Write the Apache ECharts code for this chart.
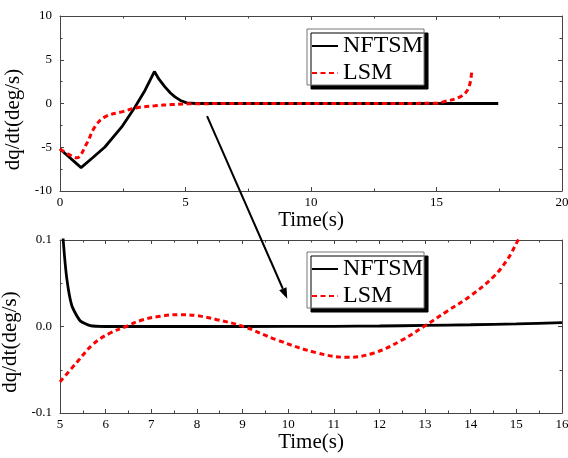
<!DOCTYPE html>
<html>
<head>
<meta charset="UTF-8">
<title>NFTSM / LSM</title>
<script src="https://cdn.jsdelivr.net/npm/echarts@6/dist/echarts.min.js"></script>
<style>
html, body { margin: 0; padding: 0; background: #fff; }
#chart { width: 568px; height: 458px; }
</style>
</head>
<body>
<div id="chart"></div>
<script>
var seriesNames = ['NFTSM', 'LSM'];

// upper panel, 0-20 s
var topNftsm = [[0, -5.2], [0.84, -7.33], [1.3, -6.2], [1.79, -4.97], [2.46, -2.68], [2.99, -0.39],
	[3.39, 1.52], [3.76, 3.65], [3.95, 2.75], [4.18, 1.9], [4.4, 1.2], [4.58, 0.76], [4.8, 0.35],
	[5.05, 0.07], [5.4, 0], [10, 0], [17.46, 0]];
var topLsm = [[0, -5.2], [0.4, -5.9], [0.66, -6.2], [1.06, -4.6], [1.39, -2.68], [1.79, -1.53],
	[2.46, -0.96], [3.12, -0.46], [3.78, -0.27], [4.45, -0.12], [5.4, -0.02], [10, 0], [15, 0.02],
	[15.27, 0.18], [15.94, 0.76], [16.27, 1.72], [16.4, 3.62]];

// lower panel, zoom on 5-16 s
var bottomNftsm = [[5.04, 0.13], [5.07, 0.1], [5.15, 0.055], [5.26, 0.024], [5.44, 0.0067],
	[5.66, 0.001], [6, 0], [9, 0], [11, 0.0002], [12, 0.0006], [13, 0.0012], [14, 0.002],
	[15, 0.003], [16, 0.0045]];
var bottomLsm = [[5, -0.064], [5.37, -0.0414], [5.73, -0.0202], [6.1, -0.0075], [6.45, 0],
	[6.75, 0.0067], [7.19, 0.0118], [7.63, 0.0137], [8.0, 0.0125], [8.44, 0.0079], [9.02, 0],
	[9.75, -0.0155], [10.64, -0.0306], [11.3, -0.0356], [11.88, -0.0306], [12.47, -0.0164],
	[12.98, 0.0002], [13.49, 0.018], [14.0, 0.0356], [14.52, 0.0587], [14.81, 0.078],
	[15.03, 0.099], [15.2, 0.115]];

var topXRange = [0, 20, 5];
var topYRange = [-10, 10, 5];
var bottomXRange = [5, 16, 1];
var bottomYRange = [-0.1, 0.1, 0.1];

// arrow: start in upper panel data, end in lower panel data
var arrowFrom = [5.86, -1.45];
var arrowTo = [9.98, 0.032];

var serif = 'Liberation Serif';
var axisColor = '#444';

function xAxisOf(grid, range, pos, withLabel) {
	return {
		type: 'value', gridIndex: grid, position: pos,
		min: range[0], max: range[1], interval: range[2],
		name: withLabel ? 'Time(s)' : '', nameLocation: 'middle', nameGap: 13,
		nameTextStyle: { fontFamily: serif, fontSize: 21, color: '#000' },
		axisLine: { show: true, onZero: false, lineStyle: { color: axisColor, width: 1 } },
		axisTick: { show: true, inside: true, length: 4, lineStyle: { color: axisColor } },
		minorTick: { show: true, splitNumber: 2, length: 2.5, lineStyle: { color: axisColor } },
		axisLabel: { show: withLabel, margin: 5, fontFamily: serif, fontSize: 13, color: '#000' },
		splitLine: { show: false }
	};
}

function yAxisOf(grid, range, pos, withLabel, fmt, shift) {
	return {
		type: 'value', gridIndex: grid, position: pos,
		min: range[0], max: range[1], interval: range[2],
		name: withLabel ? 'dq/dt(deg/s)' : '', nameLocation: 'middle', nameGap: 30,
		nameTextStyle: { fontFamily: serif, fontSize: 21, color: '#000', padding: [0, shift, 0, 0] },
		axisLine: { show: true, onZero: false, lineStyle: { color: axisColor, width: 1 } },
		axisTick: { show: true, inside: true, length: 4, lineStyle: { color: axisColor } },
		minorTick: { show: true, splitNumber: 2, length: 2.5, lineStyle: { color: axisColor } },
		axisLabel: { show: withLabel, margin: 8, fontFamily: serif, fontSize: 13, color: '#000', formatter: fmt },
		splitLine: { show: false }
	};
}

function legendAt(top) {
	return {
		orient: 'vertical', left: 307, top: top,
		data: seriesNames, selectedMode: false,
		itemWidth: 26, itemHeight: 12, itemGap: 3,
		padding: [5, 1, 0, 4],
		backgroundColor: '#fff', borderColor: '#777', borderWidth: 1,
		shadowColor: '#000', shadowBlur: 0, shadowOffsetX: 4, shadowOffsetY: 4,
		itemStyle: { opacity: 0 },
		textStyle: { fontFamily: serif, fontSize: 24, lineHeight: 24, color: '#000' }
	};
}

function blackLine(data, xi, yi, smooth) {
	return {
		name: seriesNames[0], type: 'line', xAxisIndex: xi, yAxisIndex: yi,
		data: data, symbol: 'none', smooth: smooth, z: 3,
		lineStyle: { color: '#000', width: 2.8 }, itemStyle: { color: '#000' }
	};
}

function redLine(data, xi, yi) {
	return {
		name: seriesNames[1], type: 'line', xAxisIndex: xi, yAxisIndex: yi,
		data: data, symbol: 'none', smooth: 0.4, z: 4,
		lineStyle: { color: '#ff0000', width: 3, type: [5, 3.5] }, itemStyle: { color: '#ff0000' }
	};
}

var chart = echarts.init(document.getElementById('chart'), null, { renderer: 'canvas' });
chart.setOption({
	animation: false,
	backgroundColor: '#fff',
	grid: [
		{ left: 60, right: 6, top: 16, height: 175, containLabel: false, outerBoundsMode: 'none' },
		{ left: 60, right: 6, top: 240, height: 173, containLabel: false, outerBoundsMode: 'none' }
	],
	legend: [legendAt(29), legendAt(252)],
	xAxis: [
		xAxisOf(0, topXRange, 'bottom', true),
		xAxisOf(0, topXRange, 'top', false),
		xAxisOf(1, bottomXRange, 'bottom', true),
		xAxisOf(1, bottomXRange, 'top', false)
	],
	yAxis: [
		yAxisOf(0, topYRange, 'left', true, null, 32),
		yAxisOf(0, topYRange, 'right', false, null, 0),
		yAxisOf(1, bottomYRange, 'left', true, function (v) { return v.toFixed(1); }, 31),
		yAxisOf(1, bottomYRange, 'right', false, null, 0)
	],
	series: [
		blackLine(topNftsm, 0, 0, false),
		redLine(topLsm, 0, 0),
		blackLine(bottomNftsm, 2, 2, 0.2),
		redLine(bottomLsm, 2, 2)
	]
});

// arrow linking the two panels
var p0 = chart.convertToPixel({ gridIndex: 0 }, arrowFrom);
var p1 = chart.convertToPixel({ gridIndex: 1 }, arrowTo);
var ang = Math.atan2(p1[1] - p0[1], p1[0] - p0[0]);
var headLen = 11, headHalf = 4;
var bx = p1[0] - headLen * Math.cos(ang), by = p1[1] - headLen * Math.sin(ang);
var nx = -Math.sin(ang) * headHalf, ny = Math.cos(ang) * headHalf;
chart.setOption({
	graphic: [
		{ type: 'line', z: 10, shape: { x1: p0[0], y1: p0[1], x2: bx, y2: by }, style: { stroke: '#000', lineWidth: 2 } },
		{ type: 'polygon', z: 10, shape: { points: [[p1[0], p1[1]], [bx + nx, by + ny], [bx - nx, by - ny]] }, style: { fill: '#000' } }
	]
});
</script>
</body>
</html>
